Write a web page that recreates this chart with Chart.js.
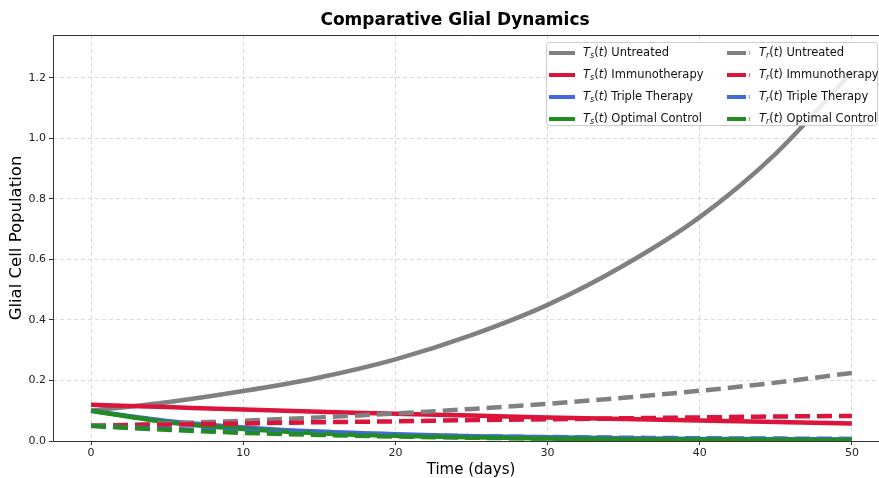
<!DOCTYPE html>
<html>
<head>
<meta charset="utf-8">
<title>Comparative Glial Dynamics</title>
<script src="https://cdn.jsdelivr.net/npm/chart.js@4.4.0/dist/chart.umd.min.js"></script>
<style>
  html, body { margin: 0; padding: 0; background: #fff; overflow: hidden; }
  #wrap { width: 879px; height: 478px; }
</style>
</head>
<body>
<div id="wrap"><canvas id="glialChart" width="879" height="478"></canvas></div>
<script>
// time points (days)
var days = [0, 5, 10, 15, 20, 25, 30, 35, 40, 45, 50];

// sensitive cells Ts(t)
var tsUntreated = [0.100, 0.128, 0.165, 0.210, 0.270, 0.350, 0.450, 0.580, 0.740, 0.950, 1.220];
var tsImmuno    = [0.120, 0.112, 0.104, 0.097, 0.090, 0.084, 0.078, 0.073, 0.068, 0.063, 0.058];
var tsTriple    = [0.100, 0.066, 0.045, 0.031, 0.022, 0.016, 0.012, 0.009, 0.007, 0.006, 0.005];
var tsOptimal   = [0.100, 0.062, 0.040, 0.026, 0.017, 0.012, 0.008, 0.006, 0.005, 0.004, 0.003];

// resistant cells Tr(t)
var trUntreated = [0.050, 0.058, 0.067, 0.078, 0.091, 0.106, 0.123, 0.143, 0.166, 0.193, 0.225];
var trImmuno    = [0.050, 0.054, 0.058, 0.062, 0.065, 0.069, 0.072, 0.075, 0.078, 0.081, 0.083];
var trTriple    = [0.050, 0.040, 0.032, 0.025, 0.020, 0.016, 0.013, 0.011, 0.009, 0.008, 0.007];
var trOptimal   = [0.050, 0.037, 0.027, 0.020, 0.015, 0.011, 0.008, 0.006, 0.005, 0.004, 0.003];

var therapies = ["Untreated", "Immunotherapy", "Triple Therapy", "Optimal Control"];
var colors = ["#808080", "#dc143c", "#4169e1", "#228b22"];

var xTicks = [0, 10, 20, 30, 40, 50];
var yTicks = [0, 0.2, 0.4, 0.6, 0.8, 1.0, 1.2];

var FONT = "'DejaVu Sans', sans-serif";

function pts(arr) {
  return days.map(function(d, i) { return { x: d, y: arr[i] }; });
}

var tsAll = [tsUntreated, tsImmuno, tsTriple, tsOptimal];
var trAll = [trUntreated, trImmuno, trTriple, trOptimal];

var datasets = [];
// first dataset is drawn on top in Chart.js, so go backwards
for (var i = 3; i >= 0; i--) {
  datasets.push({
    label: "Tr(t) " + therapies[i],
    data: pts(trAll[i]),
    borderColor: colors[i],
    borderWidth: 4.5,
    borderDash: [15, 7],
    pointRadius: 0,
    cubicInterpolationMode: "monotone",
    fill: false
  });
}
for (var i = 3; i >= 0; i--) {
  datasets.push({
    label: "Ts(t) " + therapies[i],
    data: pts(tsAll[i]),
    borderColor: colors[i],
    borderWidth: 4.5,
    pointRadius: 0,
    cubicInterpolationMode: "monotone",
    fill: false
  });
}

// mathtext-ish label: T_s(t) Name
function drawLabel(ctx, x, y, sub, name) {
  var fs = 11.5;
  ctx.fillStyle = "#111";
  ctx.textBaseline = "middle";
  ctx.textAlign = "left";
  ctx.font = "italic " + fs + "px " + FONT;
  ctx.fillText("T", x, y); x += ctx.measureText("T").width;
  ctx.font = "italic 8px " + FONT;
  ctx.fillText(sub, x, y + 3); x += ctx.measureText(sub).width;
  ctx.font = fs + "px " + FONT;
  ctx.fillText("(", x, y); x += ctx.measureText("(").width;
  ctx.font = "italic " + fs + "px " + FONT;
  ctx.fillText("t", x, y); x += ctx.measureText("t").width;
  ctx.font = fs + "px " + FONT;
  ctx.fillText(") " + name, x, y);
}

var framePlugin = {
  id: "frameAndLegend",
  afterDraw: function(chart) {
    var ctx = chart.ctx;
    var a = chart.chartArea;
    var l = Math.round(a.left) + 0.5, t = Math.round(a.top) + 0.5;
    var b = Math.round(a.bottom) + 0.5, r = chart.width;
    ctx.save();
    // axes spines (right one falls outside the picture)
    ctx.strokeStyle = "#333";
    ctx.lineWidth = 1;
    ctx.beginPath();
    ctx.moveTo(r, t); ctx.lineTo(l, t); ctx.lineTo(l, b); ctx.lineTo(r, b);
    ctx.stroke();

    // title and x label, centred on the full (uncropped) axes
    ctx.fillStyle = "#000";
    ctx.textAlign = "center";
    ctx.textBaseline = "middle";
    ctx.font = "bold 17px " + FONT;
    ctx.fillText("Comparative Glial Dynamics", 455, 21);
    ctx.font = "15px " + FONT;
    ctx.fillText("Time (days)", 471, 470);

    // legend, two columns
    var bx = 546, by = 42, bw = 331, bh = 83;
    ctx.fillStyle = "rgba(255,255,255,0.85)";
    ctx.strokeStyle = "#cccccc";
    ctx.lineWidth = 1;
    ctx.beginPath();
    ctx.roundRect(bx + 0.5, by + 0.5, bw, bh, 3);
    ctx.fill();
    ctx.stroke();

    for (var k = 0; k < 4; k++) {
      var yy = by + 11 + k * 22;
      // solid handle
      ctx.strokeStyle = colors[k];
      ctx.lineWidth = 4;
      ctx.setLineDash([]);
      ctx.beginPath();
      ctx.moveTo(bx + 3, yy); ctx.lineTo(bx + 29, yy);
      ctx.stroke();
      drawLabel(ctx, bx + 37, yy, "s", therapies[k]);

      // dashed handle
      var cx = bx + 181;
      ctx.beginPath();
      ctx.moveTo(cx, yy); ctx.lineTo(cx + 19, yy);
      ctx.stroke();
      ctx.lineWidth = 1.5;
      ctx.globalAlpha = 0.5;
      ctx.beginPath();
      ctx.moveTo(cx + 22.5, yy - 2); ctx.lineTo(cx + 22.5, yy + 2);
      ctx.stroke();
      ctx.globalAlpha = 1;
      drawLabel(ctx, bx + 213, yy, "r", therapies[k]);
    }
    ctx.restore();
  }
};

var ctx = document.getElementById("glialChart").getContext("2d");
var glialChart = new Chart(ctx, {
  type: "line",
  data: { datasets: datasets },
  options: {
    responsive: false,
    animation: false,
    layout: { padding: { left: 0, right: 0, top: 35, bottom: 0 } },
    plugins: {
      legend: { display: false },
      tooltip: { enabled: false },
      title: { display: false }
    },
    scales: {
      x: {
        type: "linear",
        min: -2.5,
        max: 51.78,
        afterBuildTicks: function(s) {
          s.ticks = xTicks.map(function(v) { return { value: v }; });
        },
        afterFit: function(s) { s.height = 37; },
        ticks: {
          color: "#222",
          font: { family: FONT, size: 11 },
          padding: 2,
          maxRotation: 0
        },
        grid: {
          color: "#cfcfcf",
          lineWidth: 0.8,
          tickColor: "#333",
          tickLength: 4,
          tickWidth: 1
        },
        border: { display: false, dash: [4, 3] },
        title: { display: false }
      },
      y: {
        type: "linear",
        min: 0,
        max: 1.342,
        afterBuildTicks: function(s) {
          s.ticks = yTicks.map(function(v) { return { value: v }; });
        },
        afterFit: function(s) { s.width = 53; },
        ticks: {
          color: "#222",
          font: { family: FONT, size: 11 },
          padding: 3,
          callback: function(v) { return v.toFixed(1); }
        },
        grid: {
          color: "#cfcfcf",
          lineWidth: 0.8,
          tickColor: "#333",
          tickLength: 4,
          tickWidth: 1
        },
        border: { display: false, dash: [4, 3] },
        title: {
          display: true,
          text: "Glial Cell Population",
          color: "#000",
          font: { family: FONT, size: 16.5 },
          padding: { top: 7, bottom: 0 }
        }
      }
    }
  },
  plugins: [framePlugin]
});
</script>
</body>
</html>
